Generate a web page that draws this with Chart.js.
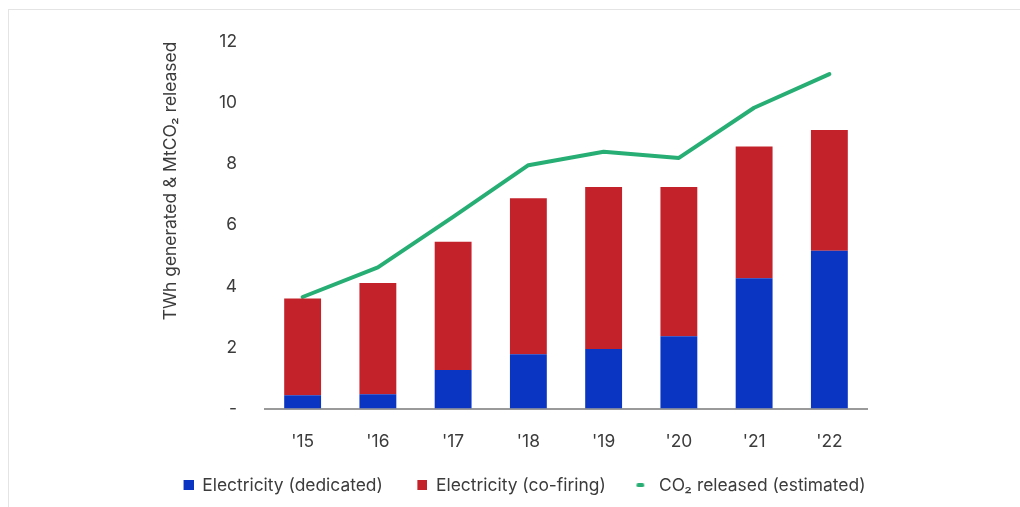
<!DOCTYPE html>
<html>
<head>
<meta charset="utf-8">
<script src="https://cdn.jsdelivr.net/npm/chart.js@4.4.1/dist/chart.umd.min.js"></script>
<style>
  html, body { margin: 0; padding: 0; background: #fff; overflow: hidden; }
  .card { position: absolute; left: 8px; top: 9px; width: 1040px; height: 520px; border: 1px solid #e4e4e4; box-sizing: border-box; }
  .wrap { position: absolute; left: 0; top: 0; width: 1039px; height: 507px; }
</style>
</head>
<body>
<div class="card"></div>
<div class="wrap"><canvas id="chart"></canvas></div>
<script>
const years = ["'15", "'16", "'17", "'18", "'19", "'20", "'21", "'22"];
const dedicated = [0.44, 0.47, 1.26, 1.78, 1.95, 2.37, 4.26, 5.16];
const coFiring = [3.16, 3.64, 4.20, 5.10, 5.30, 4.88, 4.31, 3.95];
const co2Released = [3.65, 4.62, 6.27, 7.96, 8.40, 8.20, 9.84, 10.94];
const yTicks = [0, 2, 4, 6, 8, 10, 12];

const textColor = '#3c3c3c';
const blue = '#0a35c2', red = '#c4222b', green = '#27ae74';
const fontSize = 17.4;

// legend swatches: 20px wide so there is room before each marker
function squareSwatch(color) {
  const c = document.createElement('canvas');
  c.width = 20; c.height = 10;
  const g = c.getContext('2d');
  g.fillStyle = color;
  g.fillRect(10, 0, 10, 10);
  return c;
}
function lineSwatch(color) {
  const c = document.createElement('canvas');
  c.width = 20; c.height = 4;
  const g = c.getContext('2d');
  g.strokeStyle = color; g.lineWidth = 4; g.lineCap = 'round';
  g.beginPath(); g.moveTo(8, 2); g.lineTo(12, 2); g.stroke();
  return c;
}

Chart.defaults.font.family = 'Inter, "Noto Sans", sans-serif';
Chart.defaults.font.size = fontSize;
Chart.defaults.color = textColor;

new Chart(document.getElementById('chart'), {
  type: 'bar',
  data: {
    labels: years,
    datasets: [
      { label: 'Electricity (dedicated)', data: dedicated, backgroundColor: blue, stack: 'elec',
        categoryPercentage: 1, barPercentage: 0.49, pointStyle: squareSwatch(blue) },
      { label: 'Electricity (co-firing)', data: coFiring, backgroundColor: red, stack: 'elec',
        categoryPercentage: 1, barPercentage: 0.49, pointStyle: squareSwatch(red) },
      { type: 'line', label: 'CO₂ released (estimated)', data: co2Released, stack: 'co2', yAxisID: 'y',
        borderColor: green, backgroundColor: green, borderWidth: 4, tension: 0,
        pointRadius: 0, borderCapStyle: 'round', borderJoinStyle: 'round', pointStyle: lineSwatch(green) }
    ]
  },
  options: {
    responsive: true,
    maintainAspectRatio: false,
    animation: false,
    layout: { padding: { left: 0, right: 0, top: 41.7, bottom: 3 } },
    plugins: {
      tooltip: { enabled: false },
      legend: {
        position: 'bottom',
        labels: {
          usePointStyle: true,
          boxHeight: 10,
          pointStyleWidth: 20,
          padding: 24.5,
          color: textColor,
          font: { size: fontSize }
        }
      }
    },
    scales: {
      x: {
        stacked: true,
        grid: { display: false, drawTicks: false },
        border: { display: true, color: '#9a9a9a', width: 2 },
        ticks: { padding: 22.5, color: textColor },
        afterFit: axis => { axis.height = 43.5; }
      },
      y: {
        stacked: true,
        min: 0,
        max: 12,
        afterBuildTicks: axis => { axis.ticks = yTicks.map(v => ({ value: v })); },
        afterFit: axis => { axis.width = 265; },
        grid: { display: false, drawTicks: false },
        border: { display: false },
        ticks: {
          padding: 28,
          color: textColor,
          callback: v => v === 0 ? '-' : v
        },
        title: {
          display: true,
          text: 'TWh generated & MtCO₂ released',
          align: 'end',
          color: textColor,
          font: { size: fontSize },
          padding: { top: 160.5, bottom: 0 }
        }
      },
      // empty right-hand axis keeps the plot clear of the right margin
      yRight: {
        position: 'right',
        grid: { display: false, drawTicks: false },
        border: { display: false },
        ticks: { display: false },
        afterFit: axis => { axis.width = 172; }
      }
    }
  }
});
</script>
</body>
</html>
